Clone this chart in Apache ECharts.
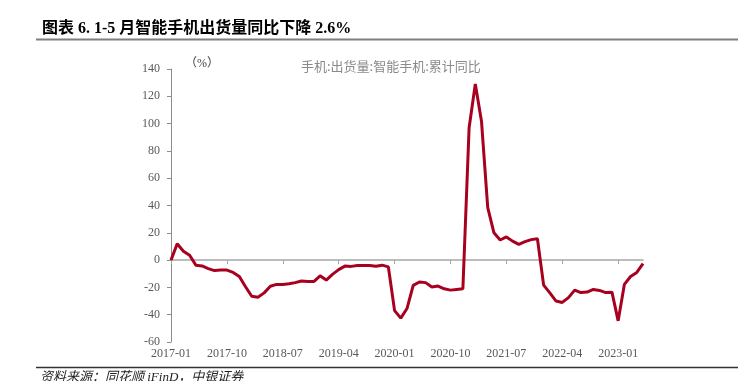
<!DOCTYPE html>
<html>
<head>
<meta charset="utf-8">
<script src="https://cdn.jsdelivr.net/npm/echarts@6/dist/echarts.min.js"></script>
<style>
  html, body { margin: 0; padding: 0; background: #fff; }
  #chart { width: 745px; height: 381px; }
</style>
</head>
<body>
<div id="chart"></div>
<script>
// 月份 2017-01 ~ 2023-05
var months = [];
for (var y = 2017; y <= 2023; y++) {
    for (var m = 1; m <= 12; m++) {
        if (y === 2023 && m > 5) break;
        months.push(y + '-' + (m < 10 ? '0' + m : m));
    }
}
// 手机:出货量:智能手机:累计同比 (%)
var yoyValues = [
    0, 12, 6.5, 3.5, -3.7, -4.3, -6.2, -7.7, -7.3, -7.3, -9, -12,
    -19.5, -26.5, -27.2, -24, -19.2, -17.8, -17.8, -17.3, -16.5, -15.3, -15.6, -15.7,
    -11.5, -14.6, -10.5, -7, -4.4, -4.6, -4, -3.9, -3.9, -4.5, -3.7, -5,
    -37, -42.5, -35.5, -18.5, -16, -16.5, -19.7, -19, -21, -22, -21.5, -21,
    97, 129, 101.5, 38.5, 20, 14.7, 17, 13.9, 11.5, 13.5, 15, 15.6,
    -18.3, -24, -30, -31, -27.5, -22, -23.8, -23.4, -21.5, -22.2, -23.8, -23.5,
    -44.5, -17.8, -12, -9, -2.6
];
var seriesName = '手机:出货量:智能手机:累计同比';
var chartTitle = '图表 6. 1-5 月智能手机出货量同比下降 2.6%';
var sourceText = '资料来源：同花顺 iFinD，中银证券';

var numFont = '"Liberation Serif", "Noto Sans CJK SC", serif';

var myChart = echarts.init(document.getElementById('chart'));
var option = {
    animation: false,
    backgroundColor: '#fff',
    title: {
        text: chartTitle,
        left: 37,
        top: 16,
        textStyle: {
            fontFamily: numFont,
            fontSize: 16,
            fontWeight: 'bold',
            color: '#000'
        }
    },
    legend: {
        data: [{ name: seriesName, icon: 'none' }],
        left: 291,
        top: 54,
        itemWidth: 0,
        itemGap: 0,
        textStyle: {
            fontFamily: '"Noto Sans CJK SC", sans-serif',
            fontSize: 13,
            color: '#8a8a8a'
        }
    },
    graphic: [
        {
            type: 'line',
            shape: { x1: 36, y1: 39.5, x2: 738, y2: 39.5 },
            style: { stroke: '#7f7f7f', lineWidth: 2 }
        },
        {
            type: 'line',
            shape: { x1: 36, y1: 367.5, x2: 738, y2: 367.5 },
            style: { stroke: '#333', lineWidth: 1.5 }
        },
        {
            type: 'text',
            left: 40,
            top: 371,
            style: {
                text: sourceText,
                fontFamily: numFont,
                fontStyle: 'italic',
                fontSize: 13,
                fill: '#222'
            }
        },
        {
            type: 'text',
            left: 185,
            top: 58,
            style: {
                text: '（%）',
                fontFamily: numFont,
                fontSize: 12,
                fill: '#404040'
            }
        }
    ],
    grid: {
        left: 171,
        right: 102,
        top: 69,
        bottom: 39
    },
    xAxis: [
        {
            type: 'category',
            data: months,
            boundaryGap: false,
            axisLine: {
                onZero: true,
                lineStyle: { color: '#a6a6a6', width: 1.5 }
            },
            axisTick: {
                interval: 8,
                length: 4,
                inside: false,
                lineStyle: { color: '#a6a6a6' }
            },
            axisLabel: { show: false },
            splitLine: { show: false }
        },
        {
            type: 'category',
            data: months,
            boundaryGap: false,
            position: 'bottom',
            axisLine: { show: false, onZero: false },
            axisTick: { show: false },
            axisLabel: {
                interval: 8,
                margin: 6,
                fontFamily: numFont,
                fontSize: 12,
                color: '#595959'
            },
            splitLine: { show: false }
        }
    ],
    yAxis: {
        type: 'value',
        min: -60,
        max: 140,
        interval: 20,
        axisLine: {
            show: true,
            lineStyle: { color: '#8c8c8c', width: 1 }
        },
        axisTick: {
            show: true,
            length: 4,
            lineStyle: { color: '#8c8c8c' }
        },
        axisLabel: {
            margin: 11,
            fontFamily: numFont,
            fontSize: 12,
            color: '#595959'
        },
        splitLine: { show: false }
    },
    series: [
        {
            name: seriesName,
            type: 'line',
            data: yoyValues,
            showSymbol: false,
            symbol: 'none',
            lineStyle: { color: '#a8001f', width: 3 },
            itemStyle: { color: '#a8001f' }
        }
    ]
};
myChart.setOption(option);
</script>
</body>
</html>
